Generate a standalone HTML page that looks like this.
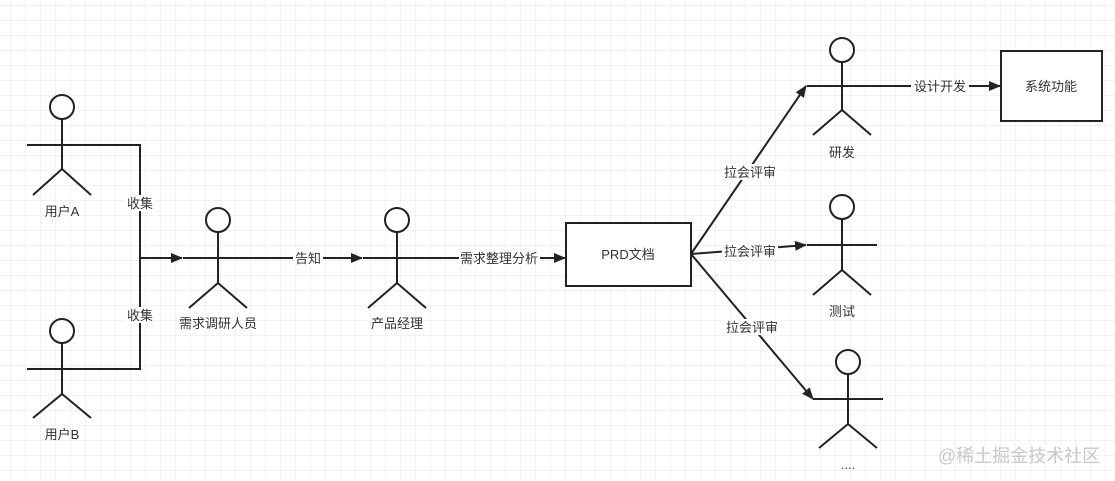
<!DOCTYPE html>
<html><head><meta charset="utf-8"><style>
html,body{margin:0;padding:0;background:#fff;}
svg{display:block}
text{font-family:"Liberation Sans","Noto Sans CJK SC",sans-serif;font-size:13px;fill:#333;}
</style></head><body>
<svg width="1115" height="481" xmlns="http://www.w3.org/2000/svg">
<defs>
<pattern id="g" x="10" y="5" width="15" height="15" patternUnits="userSpaceOnUse">
<path d="M0 0H15M0 0V15" stroke="#e6e6e6" stroke-width="1" fill="none"/>
</pattern>
<marker id="a" markerWidth="12" markerHeight="10" refX="11" refY="5" orient="auto" markerUnits="userSpaceOnUse">
<path d="M0 0L12 5L0 10Z" fill="#222"/>
</marker>
</defs>
<rect width="1115" height="481" fill="#fff"/>
<rect width="1115" height="481" fill="url(#g)"/>
<g stroke="#222" stroke-width="2" fill="none">
<circle cx="62" cy="107" r="12" fill="#fff"/><path d="M62 119V169M27 145H97M62 169L33 195M62 169L91 195"/>
<circle cx="62" cy="331" r="12" fill="#fff"/><path d="M62 343V394M27 369H97M62 394L33 418M62 394L91 418"/>
<circle cx="218" cy="220" r="12" fill="#fff"/><path d="M218 232V283M183 258H253M218 283L189 308M218 283L247 308"/>
<circle cx="397" cy="220" r="12" fill="#fff"/><path d="M397 232V283M363 258H433M397 283L368 308M397 283L426 308"/>
<circle cx="842" cy="50" r="12" fill="#fff"/><path d="M842 62V110M807 86H877M842 110L813 135M842 110L871 135"/>
<circle cx="842" cy="207" r="12" fill="#fff"/><path d="M842 219V270M807 245H877M842 270L813 295M842 270L871 295"/>
<circle cx="848" cy="362" r="12" fill="#fff"/><path d="M848 374V424M813 399H883M848 424L819 448M848 424L877 448"/>
<path d="M97 145H140V369H97"/>
<path d="M140 258H182" marker-end="url(#a)"/>
<path d="M253 258H362" marker-end="url(#a)"/>
<path d="M433 258H565" marker-end="url(#a)"/>
<path d="M691 254L806 86" marker-end="url(#a)"/>
<path d="M691 254L806 245" marker-end="url(#a)"/>
<path d="M691 254L813 399" marker-end="url(#a)"/>
<path d="M877 86H1000" marker-end="url(#a)"/>
<rect x="566" y="223" width="125" height="63" fill="#fff"/>
<rect x="1001" y="51" width="101" height="70" fill="#fff"/>
</g>
<g fill="#fff">
<rect x="125" y="195" width="30" height="16"/>
<rect x="125" y="307" width="30" height="16"/>
<rect x="293" y="250" width="30" height="16"/>
<rect x="459" y="250" width="81" height="16"/>
<rect x="722" y="164" width="56" height="16"/>
<rect x="722" y="243" width="56" height="16"/>
<rect x="724" y="319" width="56" height="16"/>
<rect x="911" y="78" width="58" height="16"/>
</g>
<g text-anchor="middle">
<text x="62" y="216">用户A</text>
<text x="62" y="439">用户B</text>
<text x="140" y="208">收集</text>
<text x="140" y="320">收集</text>
<text x="218" y="328">需求调研人员</text>
<text x="308" y="263">告知</text>
<text x="397" y="328">产品经理</text>
<text x="499" y="263">需求整理分析</text>
<text x="628" y="259">PRD文档</text>
<text x="750" y="177">拉会评审</text>
<text x="750" y="256">拉会评审</text>
<text x="752" y="332">拉会评审</text>
<text x="842" y="157">研发</text>
<text x="842" y="316">测试</text>
<text x="848" y="469">....</text>
<text x="940" y="91">设计开发</text>
<text x="1051" y="91">系统功能</text>
<text x="1019" y="462" style="font-size:18px;fill:#c8c8c8">@稀土掘金技术社区</text>
</g>
</svg>
</body></html>
